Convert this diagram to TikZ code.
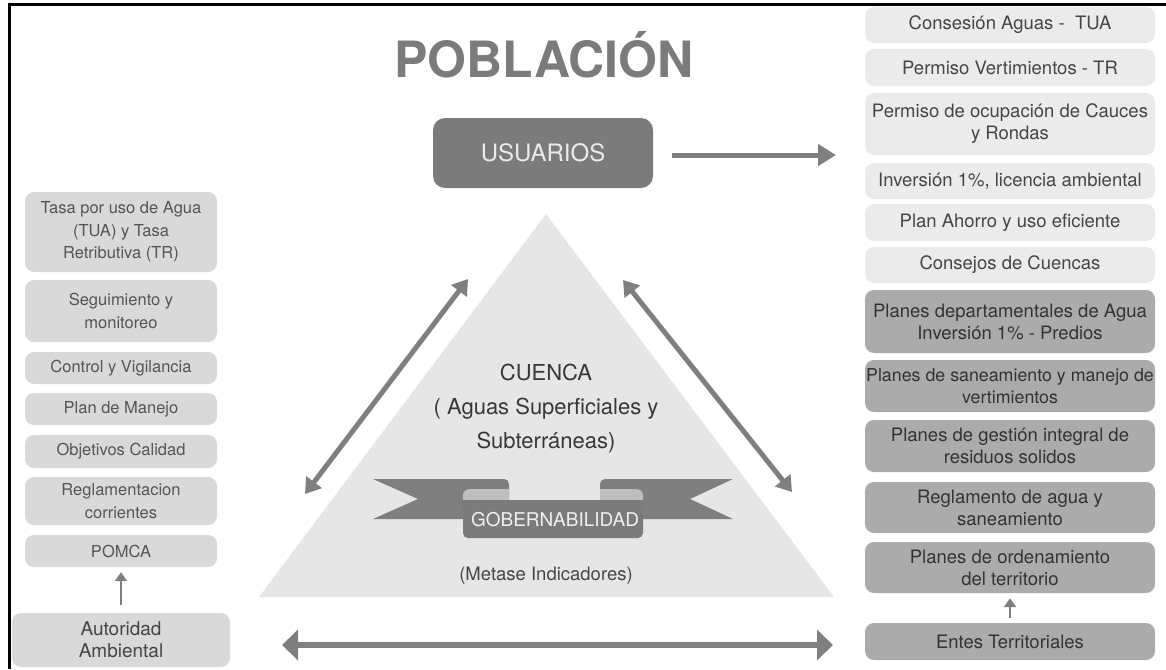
\documentclass[tikz,border=0pt]{standalone}
\usepackage{fontspec}
\setmainfont{TeX Gyre Heros}
\usetikzlibrary{arrows.meta}
\definecolor{lbox}{HTML}{D9D9D9}
\definecolor{rlight}{HTML}{EBEBEB}
\definecolor{rdark}{HTML}{ABABAB}
\definecolor{arr}{HTML}{7F7F7F}
\definecolor{txtl}{HTML}{555555}
\definecolor{txtr}{HTML}{454545}
\definecolor{tri}{HTML}{E6E6E6}
\definecolor{dbox}{HTML}{7B7B7B}
\definecolor{fold}{HTML}{BEBEBE}
\begin{document}
\begin{tikzpicture}[x=1pt,y=-1pt,
  box/.style={rounded corners=9pt, align=center, inner sep=0pt},
  lb/.style={box, fill=lbox, text=txtl, minimum width=192pt, font=\fontsize{16.5}{22.5}\selectfont},
  rb/.style={box, fill=rlight, text=txtr, minimum width=290pt, font=\fontsize{18.5}{22}\selectfont},
  rd/.style={rb, fill=rdark, text=black!80},
  bigarr/.style={draw=arr, line width=5pt, {Triangle[length=15pt,width=19pt]}-{Triangle[length=15pt,width=19pt]}},
  smallarr/.style={draw=arr, line width=2.6pt, -{Triangle[length=9pt,width=12pt]}},
]
\useasboundingbox (0,0) rectangle (1166,669);
% frame
\draw[line width=3pt] (9,669) -- (9,5) -- (1166,5);

% title
\node[text=dbox, font=\fontsize{50}{50}\selectfont\bfseries] (pob) at (544,55) {POBLACIÓN};

% usuarios
\node[box, rounded corners=12pt, fill=dbox, text=black!8, minimum width=220pt, minimum height=70pt,
      font=\fontsize{24}{24}\selectfont] (usu) at (543,153) {USUARIOS};
\coordinate (usuend) at (836,155);
\draw[draw=arr, line width=5pt, -{Triangle[length=18pt,width=21pt]}] (usu.east |- usuend) ++(19,0) -- (usuend);

% triangle
\fill[tri] (546,214) coordinate (apex) -- (834,597) coordinate (br) -- (259,597) coordinate (bl) -- cycle;
\node[align=center, text=black!78, font=\fontsize{22}{34}\selectfont] (cuenca) at (546,409)
  {CUENCA\\( Aguas Superficiales y\\Subterráneas)};

% ribbon
\fill[arr] (373,479) -- (504,479) to[out=0,in=90] (509,484) -- (509,519) -- (373,519) -- (418,499) -- cycle;
\fill[arr] (733,479) -- (605,479) to[out=180,in=90] (600,484) -- (600,519) -- (733,519) -- (690,499) -- cycle;
\fill[fold] (463,500) -- (463,495) to[out=90,in=180] (470,489) -- (509,489) -- (509,500) -- cycle;
\fill[fold] (643,500) -- (643,495) to[out=90,in=0] (636,489) -- (600,489) -- (600,500) -- cycle;
\fill[dbox, rounded corners=5pt] (463,500) -- (463,538) -- (643,538) -- (643,500) [sharp corners] -- cycle;
\node[text=black!6, font=\fontsize{19}{19}\selectfont] (gob) at (555,520) {GOBERNABILIDAD};
\node[text=black!72, font=\fontsize{18.5}{18.5}\selectfont] (metas) at (546,576) {(Metase Indicadores)};

% diagonal arrows
\coordinate (la1) at (305,494);
\coordinate (la2) at (468,279);
\coordinate (ra1) at (623,280);
\coordinate (ra2) at (792,492);
\draw[bigarr] (la1) -- (la2);
\draw[bigarr] (ra1) -- (ra2);

% bottom arrow
\coordinate (ba1) at (282,645);
\coordinate (ba2) at (833,645);
\draw[draw=arr, line width=6pt, {Triangle[length=16pt,width=30pt]}-{Triangle[length=16pt,width=30pt]}] (ba1) -- (ba2);

% left column
\node[lb, minimum height=80pt] (l1) at (121,232) {Tasa por uso de Agua\\(TUA) y Tasa\\Retributiva (TR)};
\node[lb, minimum height=62pt] (l2) at (121,311) {Seguimiento y\\monitoreo};
\node[lb, minimum height=32pt] (l3) at (121,368) {Control y Vigilancia};
\node[lb, minimum height=32pt] (l4) at (121,409) {Plan de Manejo};
\node[lb, minimum height=33pt] (l5) at (121,451.5) {Objetivos Calidad};
\node[lb, minimum height=48pt] (l6) at (121,501) {Reglamentacion\\corrientes};
\node[lb, minimum height=32pt] (l7) at (121,551) {POMCA};
\node[lb, minimum width=218pt, minimum height=54pt, text=txtr, font=\fontsize{19}{22}\selectfont] (aut) at (121,640) {Autoridad\\Ambiental};
\draw[smallarr, shorten >=5pt, shorten <=8pt] (aut.north) -- (l7.south);

% right column
\node[rb, minimum height=36pt] (r1) at (1010,25) {Consesión Aguas -\ \ TUA};
\node[rb, minimum height=37pt] (r2) at (1010,67.5) {Permiso Vertimientos - TR};
\node[rb, minimum height=62pt] (r3) at (1010,124) {Permiso de ocupación de Cauces\\y Rondas};
\node[rb, minimum height=36pt] (r4) at (1010,181) {Inversión 1\%, licencia ambiental};
\node[rb, minimum height=37pt] (r5) at (1010,222.5) {Plan Ahorro y uso eficiente};
\node[rb, minimum height=36pt] (r6) at (1010,265) {Consejos de Cuencas};
\node[rd, minimum height=63pt] (r7) at (1010,321.5) {Planes departamentales de Agua\\Inversión 1\% - Predios};
\node[rd, minimum height=52pt, font=\fontsize{17.8}{22}\selectfont] (r8) at (1010,386) {Planes de saneamiento y manejo de\\vertimientos};
\node[rd, minimum height=52pt] (r9) at (1010,446) {Planes de gestión integral de\\residuos solidos};
\node[rd, minimum height=51pt] (r10) at (1010,507.5) {Reglamento de agua y\\saneamiento};
\node[rd, minimum height=51pt] (r11) at (1010,567.5) {Planes de ordenamiento\\del territorio};
\node[rd, minimum height=37pt] (r12) at (1010,641.5) {Entes Territoriales};
\draw[smallarr, shorten >=5pt, shorten <=5pt] (r12.north) -- (r11.south);
\end{tikzpicture}
\end{document}
